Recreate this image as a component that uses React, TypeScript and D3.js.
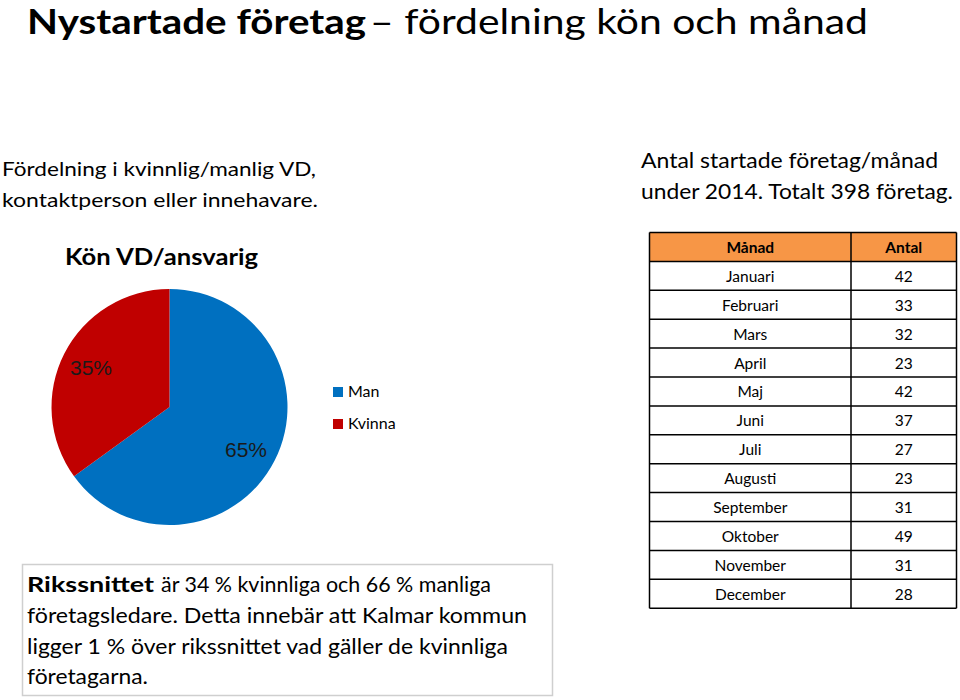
import React from "react";
import * as d3 from "d3";

const genderLabels = ["Man", "Kvinna"];
const genderValues = [65, 35];
const genderColors = ["#0070C0", "#C00000"];

const months = ["Januari", "Februari", "Mars", "April", "Maj", "Juni", "Juli", "Augusti", "September", "Oktober", "November", "December"];
const counts = [42, 33, 32, 23, 42, 37, 27, 23, 31, 49, 31, 28];
const tableHeaders = ["Månad", "Antal"];

const FONT = "Lato, 'Open Sans', sans-serif";

export default function App() {
  const W = 960, H = 700;
  const cx = 169.5, cy = 407, r = 118;
  const pie = d3.pie<number>().sort(null).value((d) => d);
  const arcs = pie(genderValues);
  const arcGen = d3.arc<d3.PieArcDatum<number>>().innerRadius(0).outerRadius(r);
  const labelPos = [
    [246, 451],
    [91, 369],
  ];

  const rowH = 28.9;
  const tTop = 232.5;
  const tLeft = 649.5, tMid = 851, tRight = 956.5;
  const yScale = d3.scaleLinear().domain([0, months.length + 1]).range([tTop, tTop + rowH * (months.length + 1)]);

  const paraLines: { bold?: string; text: string; x1: number; len: number }[] = [
    { bold: "Rikssnittet", text: "är 34 % kvinnliga och 66 % manliga", x1: 161, len: 330 },
    { text: "företagsledare. Detta innebär att Kalmar kommun", x1: 27, len: 500 },
    { text: "ligger 1 % över rikssnittet vad gäller de kvinnliga", x1: 27, len: 481 },
    { text: "företagarna.", x1: 27, len: 121 },
  ];

  return (
    <svg width={W} height={H} style={{ position: "absolute", left: 0, top: 0, background: "#fff" }} fontFamily={FONT}>
      <rect x={0} y={0} width={W} height={H} fill="#fff" />
      {/* Title */}
      <text y={34} fontSize={34} fill="#000">
        <tspan x={27} fontWeight="bold" textLength={339} lengthAdjust="spacingAndGlyphs">Nystartade företag</tspan>
        <tspan x={370} textLength={498} lengthAdjust="spacingAndGlyphs">– fördelning kön och månad</tspan>
      </text>

      {/* Left description */}
      <text x={2} y={176} fontSize={20} fill="#000" textLength={314} lengthAdjust="spacingAndGlyphs">Fördelning i kvinnlig/manlig VD,</text>
      <text x={2} y={207} fontSize={20} fill="#000" textLength={316} lengthAdjust="spacingAndGlyphs">kontaktperson eller innehavare.</text>

      {/* Pie title */}
      <text x={65} y={265} fontSize={22} fontWeight="bold" fill="#000" textLength={193} lengthAdjust="spacingAndGlyphs">Kön VD/ansvarig</text>

      {/* Pie */}
      <g transform={`translate(${cx},${cy})`}>
        {arcs.map((a, i) => (
          <path key={i} d={arcGen(a) || ""} fill={genderColors[i]} />
        ))}
      </g>
      {arcs.map((a, i) => (
        <text key={i} x={labelPos[i][0]} y={labelPos[i][1]} textAnchor="middle" dominantBaseline="middle" fontSize={21}
          fontFamily="'Liberation Sans', Arial, sans-serif" fill="#1a1a1a">
          {`${genderValues[i]}%`}
        </text>
      ))}

      {/* Legend */}
      {genderLabels.map((l, i) => (
        <g key={l} transform={`translate(333, ${387 + i * 32})`}>
          <rect x={0} y={0} width={10} height={10} fill={genderColors[i]} />
          <text x={15} y={10} fontSize={16} fill="#000">{l}</text>
        </g>
      ))}

      {/* Right description */}
      <text x={641} y={168} fontSize={21.5} fill="#000" textLength={297} lengthAdjust="spacingAndGlyphs">Antal startade företag/månad</text>
      <text x={641} y={199} fontSize={21.5} fill="#000" textLength={312} lengthAdjust="spacingAndGlyphs">under 2014. Totalt 398 företag.</text>

      {/* Table */}
      <rect x={tLeft} y={yScale(0)} width={tRight - tLeft} height={rowH} fill="#F79646" />
      {d3.range(months.length + 2).map((i) => (
        <line key={i} x1={tLeft} x2={tRight} y1={yScale(i)} y2={yScale(i)} stroke="#000" strokeWidth={1.5} />
      ))}
      {[tLeft, tMid, tRight].map((x, i) => (
        <line key={i} x1={x} x2={x} y1={yScale(0)} y2={yScale(months.length + 1)} stroke="#000" strokeWidth={1.5} />
      ))}
      <text x={(tLeft + tMid) / 2} y={yScale(0.5)} textAnchor="middle" dominantBaseline="central" fontSize={15.5} fontWeight="bold" fill="#000">{tableHeaders[0]}</text>
      <text x={(tMid + tRight) / 2} y={yScale(0.5)} textAnchor="middle" dominantBaseline="central" fontSize={15.5} fontWeight="bold" fill="#000">{tableHeaders[1]}</text>
      {months.map((m, i) => (
        <g key={m}>
          <text x={(tLeft + tMid) / 2} y={yScale(i + 1.5)} textAnchor="middle" dominantBaseline="central" fontSize={15.5} fill="#000">{m}</text>
          <text x={(tMid + tRight) / 2} y={yScale(i + 1.5)} textAnchor="middle" dominantBaseline="central" fontSize={15.5} fill="#000">{counts[i]}</text>
        </g>
      ))}

      {/* Bottom text box */}
      <rect x={22.5} y={564.5} width={530} height={131} fill="#fff" stroke="#cfcfcf" strokeWidth={1.5} />
      {paraLines.map((ln, i) => (
        <text key={i} y={592 + i * 30.8} fontSize={20.5} fill="#000">
          {ln.bold && <tspan x={27} fontWeight="bold" textLength={127} lengthAdjust="spacingAndGlyphs">{ln.bold}</tspan>}
          <tspan x={ln.x1} textLength={ln.len} lengthAdjust="spacingAndGlyphs">{ln.text}</tspan>
        </text>
      ))}
    </svg>
  );
}
